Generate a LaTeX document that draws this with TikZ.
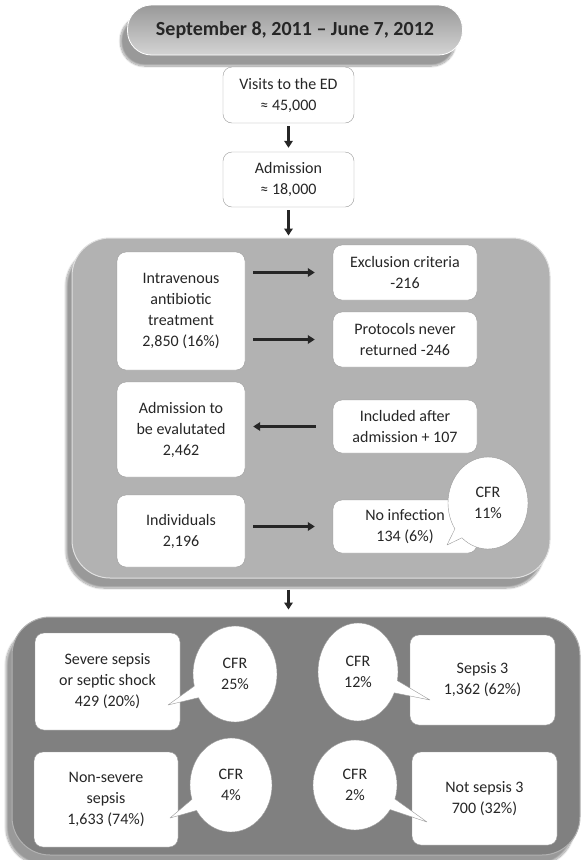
\documentclass[tikz,border=0pt]{standalone}
\usepackage{fontspec}
\setmainfont{Carlito}
\usetikzlibrary{arrows.meta,shapes.callouts,shadows.blur}
\tikzset{
  box/.style={draw=black!40, fill=white, rounded corners=9pt, align=center, inner sep=2pt,
    text=black!85, font=\fontsize{16}{21}\selectfont},
  cfr/.style={ellipse callout, draw=black!40, fill=white, align=center, inner sep=0pt,
    text=black!85, font=\fontsize{16}{21}\selectfont},
  arr/.style={line width=2.6pt, draw=black!85, -{Triangle[length=7pt,width=8.5pt]}},
  panel/.style={rounded corners=38pt, inner sep=0pt,
    blur shadow={shadow xshift=-6pt, shadow yshift=-10pt, shadow blur steps=14, shadow blur extra rounding=6pt, shadow opacity=40}}
}
\begin{document}
\begin{tikzpicture}[x=1pt, y=-1pt, line join=round]
\useasboundingbox (0,0) rectangle (581,860);
% title
\node[rounded corners=24pt, minimum width=335, minimum height=50, top color=black!40, bottom color=black!17,
  draw=white, line width=0.8pt, text=black!85, font=\fontsize{20}{24}\selectfont\bfseries,
  blur shadow={shadow xshift=-7pt, shadow yshift=-11pt, shadow blur steps=14, shadow blur extra rounding=6pt, shadow opacity=40}]
  (head) at (295,30) {September 8, 2011 – June 7, 2012};
\node[box, minimum width=131, minimum height=56] (visits) at (288.5,95) {Visits to the ED\\≈ 45,000};
\node[box, minimum width=131, minimum height=55] (adm) at (288.5,179.5) {Admission\\≈ 18,000};
% middle panel
\node[panel, fill=black!30, draw=black!12, line width=1pt, minimum width=478, minimum height=340] (mid) at (311,408) {};
\node[box, minimum width=128, minimum height=118] (iv) at (181,311) {Intravenous\\antibiotic\\treatment\\2,850 (16\%)};
\node[box, minimum width=128, minimum height=95] (eval) at (181,429.5) {Admission to\\be evalutated\\2,462};
\node[box, minimum width=128, minimum height=72] (indiv) at (181,531) {Individuals\\2,196};
\node[box, minimum width=144, minimum height=55] (excl) at (405,272.5) {Exclusion criteria\\-216};
\node[box, minimum width=144, minimum height=55] (prot) at (405,339.5) {Protocols never\\returned -246};
\node[box, minimum width=144, minimum height=53] (incl) at (405,426.5) {Included after\\admission + 107};
\node[box, minimum width=144, minimum height=53] (noinf) at (405,526.5) {No infection\\134 (6\%)};
\node[cfr, minimum width=80, minimum height=92, callout absolute pointer={(447,545)}] (c11) at (488,503) {CFR\\11\%};
% bottom panel
\node[panel, fill=black!50, draw=black!30, line width=1pt, minimum width=568, minimum height=238] (bot) at (296,736) {};
\node[box, minimum width=145, minimum height=97] (sev) at (107.5,681.5) {Severe sepsis\\or septic shock\\429 (20\%)};
\node[box, minimum width=144, minimum height=95] (nonsev) at (106,799.5) {Non-severe\\sepsis\\1,633 (74\%)};
\node[box, minimum width=145, minimum height=90] (s3) at (482.5,680) {Sepsis 3\\1,362 (62\%)};
\node[box, minimum width=145, minimum height=93] (ns3) at (484.5,798.5) {Not sepsis 3\\700 (32\%)};
\node[cfr, minimum width=84, minimum height=96, callout absolute pointer={(168,705)}] (c25) at (235,674) {CFR\\25\%};
\node[cfr, minimum width=82, minimum height=94, callout absolute pointer={(170,818)}] (c4) at (231,785) {CFR\\4\%};
\node[cfr, minimum width=80, minimum height=98, callout absolute pointer={(430,700)}] (c12) at (358,672) {CFR\\12\%};
\node[cfr, minimum width=84, minimum height=90, callout absolute pointer={(427,822)}] (c2) at (355,785) {CFR\\2\%};
% arrows
\draw[arr, shorten <=3pt, shorten >=4pt] (visits) -- (adm);
\draw[arr, shorten <=3pt, shorten >=2pt] (adm) -- (adm |- mid.north);
\draw[arr, shorten <=11pt, shorten >=7pt] (adm |- mid.south) -- (adm |- bot.north);
\draw[arr, shorten <=8pt, shorten >=18pt] (iv.east |- excl.west) -- (excl.west);
\draw[arr, shorten <=8pt, shorten >=18pt] (iv.east |- prot.west) -- (prot.west);
\draw[arr, shorten <=17pt, shorten >=8pt] (incl.west) -- (eval.east |- incl.west);
\draw[arr, shorten <=8pt, shorten >=18pt] (indiv.east |- noinf.west) -- (noinf.west);
\end{tikzpicture}
\end{document}
